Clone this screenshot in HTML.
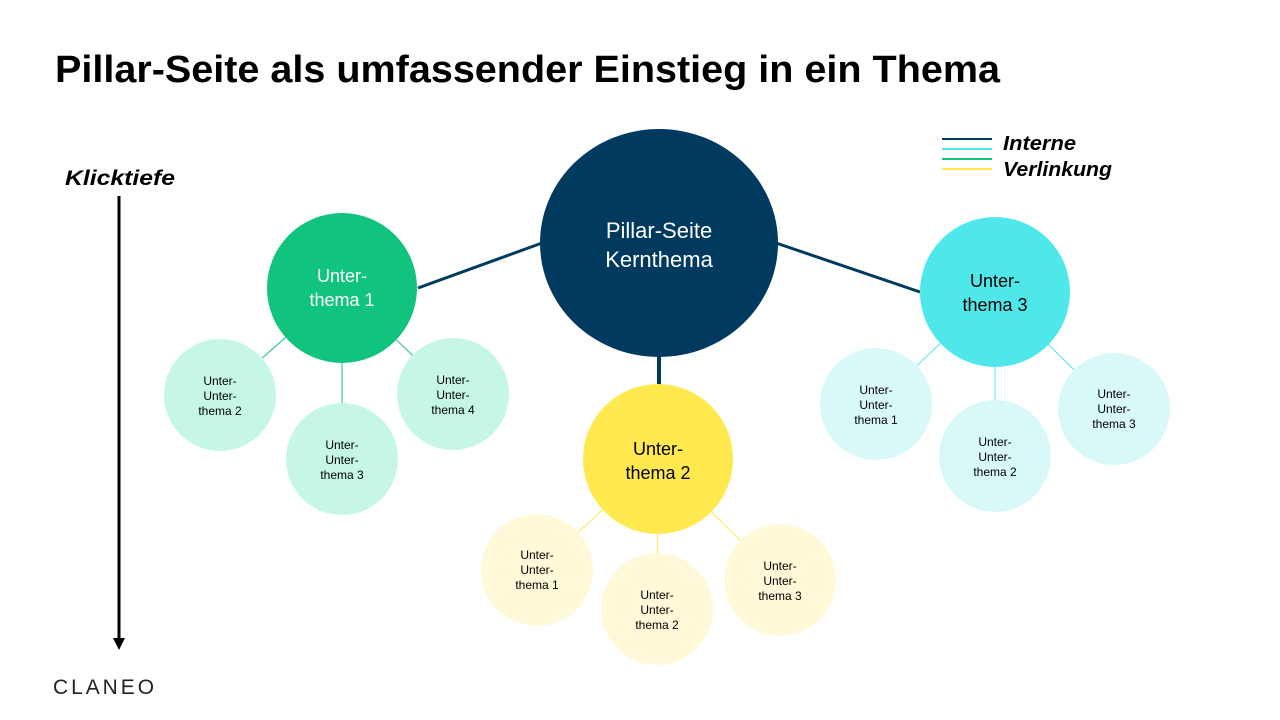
<!DOCTYPE html>
<html><head><meta charset="utf-8"><style>
html,body{margin:0;padding:0;background:#fff;}
svg{display:block;}
text{font-family:"Liberation Sans",sans-serif;}
</style></head><body>
<svg width="1280" height="720" viewBox="0 0 1280 720" xmlns="http://www.w3.org/2000/svg">
<rect width="1280" height="720" fill="#fff"/>
<text x="55" y="82" font-size="38" font-weight="bold" fill="#000" textLength="945" lengthAdjust="spacingAndGlyphs">Pillar-Seite als umfassender Einstieg in ein Thema</text>
<text x="65" y="185" font-size="21" font-weight="bold" font-style="italic" fill="#000" textLength="110" lengthAdjust="spacingAndGlyphs">Klicktiefe</text>
<line x1="119" y1="196" x2="119" y2="640" stroke="#000" stroke-width="3"/>
<polygon points="113,638 125,638 119,650" fill="#000"/>
<line x1="942" y1="139" x2="992" y2="139" stroke="#003a5e" stroke-width="2"/>
<line x1="942" y1="149" x2="992" y2="149" stroke="#4ee8eb" stroke-width="2"/>
<line x1="942" y1="159" x2="992" y2="159" stroke="#11c47d" stroke-width="2"/>
<line x1="942" y1="169" x2="992" y2="169" stroke="#ffe94e" stroke-width="2"/>
<text x="1003" y="150" font-size="20" font-style="italic" font-weight="bold" fill="#000" textLength="73" lengthAdjust="spacingAndGlyphs">Interne</text>
<text x="1003" y="176" font-size="20" font-style="italic" font-weight="bold" fill="#000" textLength="109" lengthAdjust="spacingAndGlyphs">Verlinkung</text>
<line x1="418" y1="288" x2="542" y2="243" stroke="#003a5e" stroke-width="3"/>
<line x1="776" y1="243" x2="920" y2="292" stroke="#003a5e" stroke-width="3"/>
<line x1="659" y1="350" x2="659" y2="386" stroke="#003a5e" stroke-width="4"/>
<g stroke="#11c47d" stroke-width="1">
<line x1="342" y1="288" x2="220" y2="395"/><line x1="342" y1="288" x2="342" y2="459"/><line x1="342" y1="288" x2="453" y2="394"/></g>
<g stroke="#ffe94e" stroke-width="1">
<line x1="658" y1="459" x2="537" y2="570"/><line x1="658" y1="459" x2="657" y2="609"/><line x1="658" y1="459" x2="780" y2="580"/></g>
<g stroke="#4ee8eb" stroke-width="1">
<line x1="995" y1="292" x2="876" y2="404"/><line x1="995" y1="292" x2="995" y2="456"/><line x1="995" y1="292" x2="1114" y2="409"/></g>
<ellipse cx="659" cy="243" rx="119" ry="114" fill="#003a5e"/>
<circle cx="342" cy="288" r="75" fill="#11c47d"/>
<circle cx="658" cy="459" r="75" fill="#ffe94e"/>
<circle cx="995" cy="292" r="75" fill="#4ee8eb"/>
<g fill="#c5f7e4"><circle cx="220" cy="395" r="56"/><circle cx="342" cy="459" r="56"/><circle cx="453" cy="394" r="56"/></g>
<g fill="#fff9d9"><circle cx="537" cy="570" r="56"/><circle cx="657" cy="609" r="56"/><circle cx="780" cy="580" r="56"/></g>
<g fill="#d9f8f8"><circle cx="876" cy="404" r="56"/><circle cx="995" cy="456" r="56"/><circle cx="1114" cy="409" r="56"/></g>
<g text-anchor="middle" font-size="22" fill="#fff">
<text x="659" y="238">Pillar-Seite</text><text x="659" y="267">Kernthema</text></g>
<g text-anchor="middle" font-size="18">
<text x="342" y="282" fill="#fff">Unter-</text><text x="342" y="306" fill="#fff">thema 1</text>
<text x="658" y="455" fill="#000">Unter-</text><text x="658" y="479" fill="#000">thema 2</text>
<text x="995" y="287" fill="#000">Unter-</text><text x="995" y="311" fill="#000">thema 3</text>
</g>
<g text-anchor="middle" font-size="12" fill="#000">
<text x="220" y="385">Unter-</text><text x="220" y="400">Unter-</text><text x="220" y="415">thema 2</text>
<text x="342" y="449">Unter-</text><text x="342" y="464">Unter-</text><text x="342" y="479">thema 3</text>
<text x="453" y="384">Unter-</text><text x="453" y="399">Unter-</text><text x="453" y="414">thema 4</text>
<text x="537" y="559">Unter-</text><text x="537" y="574">Unter-</text><text x="537" y="589">thema 1</text>
<text x="657" y="599">Unter-</text><text x="657" y="614">Unter-</text><text x="657" y="629">thema 2</text>
<text x="780" y="570">Unter-</text><text x="780" y="585">Unter-</text><text x="780" y="600">thema 3</text>
<text x="876" y="394">Unter-</text><text x="876" y="409">Unter-</text><text x="876" y="424">thema 1</text>
<text x="995" y="446">Unter-</text><text x="995" y="461">Unter-</text><text x="995" y="476">thema 2</text>
<text x="1114" y="398">Unter-</text><text x="1114" y="413">Unter-</text><text x="1114" y="428">thema 3</text>
</g>
<text x="53" y="694" font-size="21" fill="#222" letter-spacing="3" textLength="104" lengthAdjust="spacingAndGlyphs">CLANEO</text>
</svg>
</body></html>
